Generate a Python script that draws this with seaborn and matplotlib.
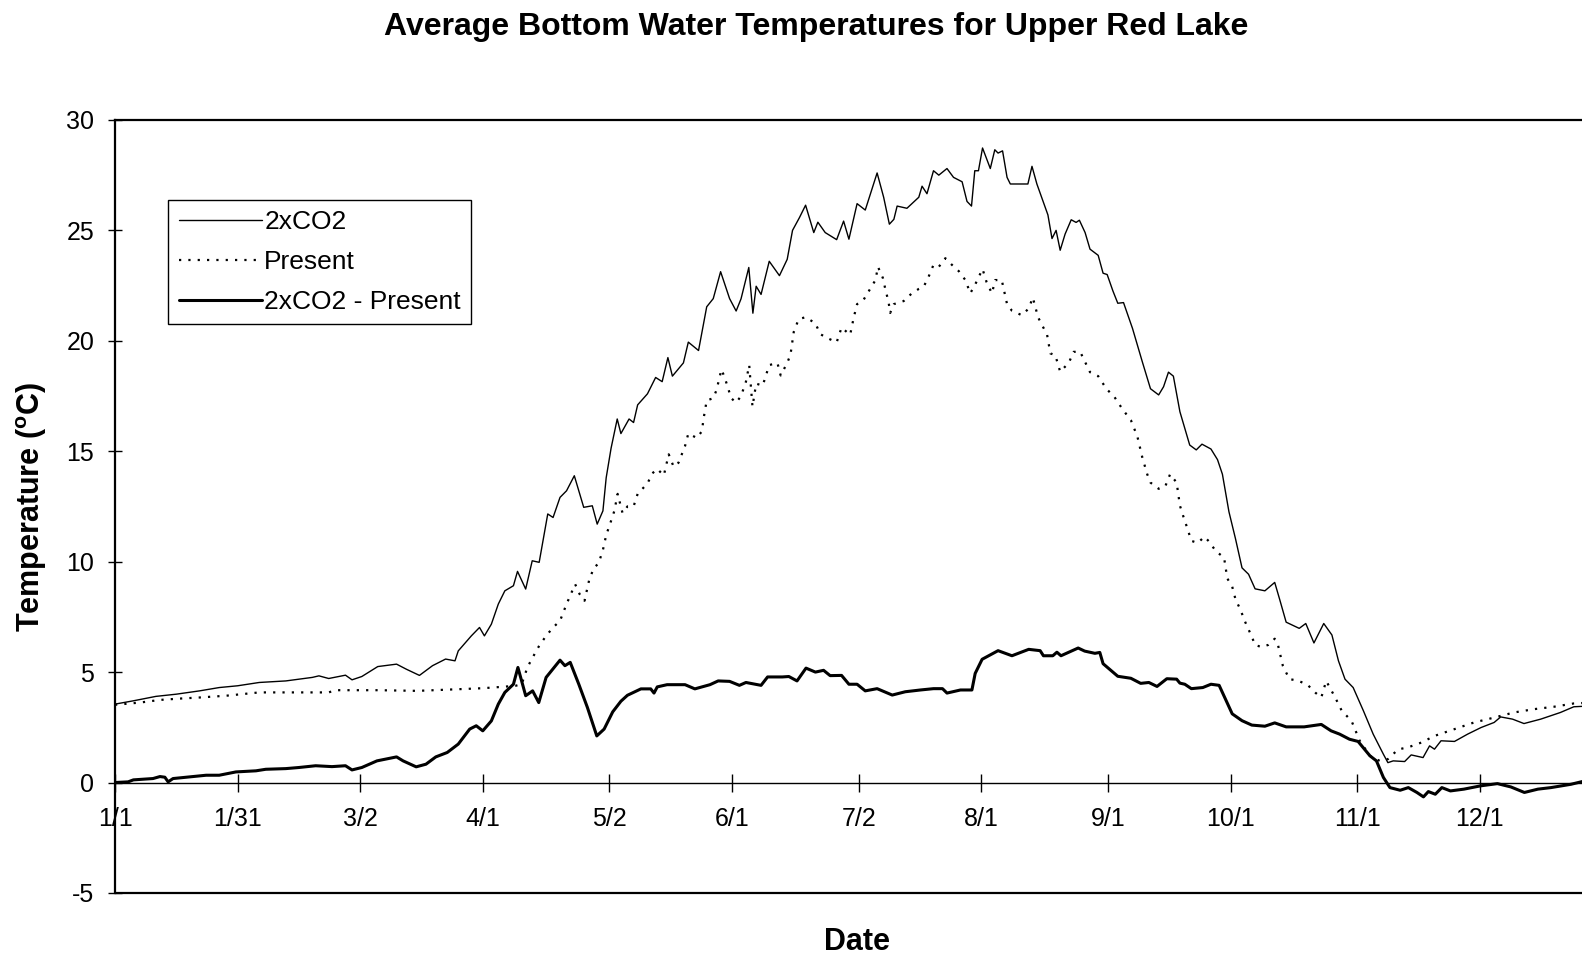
import matplotlib
matplotlib.use("Agg")
import matplotlib.pyplot as plt
import seaborn as sns

# Day-of-year sample points and temperatures (deg C) for each series
days_2x = [1, 5.5, 11, 16, 21.7, 26.5, 31, 36.3, 42.8, 49.3, 50.9, 53.3, 57.4, 59, 61.4,
           65.3, 69.9, 72.3, 75.5, 78.7, 81.9, 84.2, 85, 88.2, 90.2, 91.4, 93.1, 94.8, 96.4,
           98.5, 99.5, 101.5, 103.1, 104.8, 106.9, 108.2, 109.9, 111.5, 113.4, 115.7, 117.8,
           119, 120.4, 121.2, 122.4, 123.9, 124.8, 126.8, 127.9, 128.9, 131.3, 133.3, 134.9,
           136.3, 137.4, 140.1, 141.3, 143.8, 145.8, 147.4, 149.2, 151.4, 153, 154.2, 156.1,
           157.1, 157.9, 159.1, 161.1, 163.6, 165.5, 166.8, 168.5, 170, 172, 173, 174.8, 177.6,
           179.3, 180.6, 182.6, 184.6, 187.5, 189.1, 190.5, 191.6, 192.4, 194.8, 197.7, 198.5,
           199.7, 201.3, 202.6, 204.6, 206.2, 208.3, 209.5, 210.6, 211.4, 212.3, 213.3, 215.2,
           216.3, 217.1, 218.2, 219.3, 220.1, 224.4, 225.4, 226.6, 229.3, 230.3, 231.3, 232.3,
           233.5, 235, 236.2, 237, 238.4, 239.6, 241.6, 242.8, 243.8, 245.2, 246.4, 247.8, 250,
           252.4, 254.4, 256.4, 257.6, 258.8, 260, 261.6, 264, 265.6, 267, 269.2, 270.8, 272,
           273.6, 275.2, 276.8, 278.4, 280, 282.4, 284.8, 286, 287.6, 290.8, 292.4, 294.4,
           296.8, 298.8, 300.4, 302, 304, 306.5, 308.9, 311.4, 312.5, 313.8, 316.6, 318.2,
           321.1, 322.7, 323.9, 325.5, 328.8, 332, 335.3, 338.5, 340.1, 343, 345.8, 349.9,
           354.7, 358, 360.2]
temp_2x = [3.55, 3.70, 3.90, 4.00, 4.15, 4.30, 4.38, 4.53, 4.60, 4.76, 4.83, 4.71, 4.86, 4.65, 4.80,
           5.25, 5.36, 5.13, 4.85, 5.29, 5.59, 5.51, 5.96, 6.64, 7.02, 6.64, 7.17, 8.08, 8.68,
           8.91, 9.56, 8.76, 10.04, 9.97, 12.16, 12.0, 12.91, 13.21, 13.89, 12.46, 12.53,
           11.7, 12.3, 13.8, 15.14, 16.46, 15.8, 16.46, 16.3, 17.1, 17.6, 18.34, 18.15,
           19.24, 18.4, 19.0, 19.94, 19.56, 21.54, 21.91, 23.13, 21.91, 21.35, 21.9, 23.32,
           21.25, 22.47, 22.1, 23.6, 22.95, 23.69, 25.0, 25.58, 26.14, 24.9, 25.37, 24.9, 24.58,
           25.42, 24.6, 26.21, 25.92, 27.6, 26.5, 25.28, 25.5, 26.1, 26.0, 26.5, 27.0,
           26.66, 27.7, 27.5, 27.8, 27.4, 27.2, 26.31, 26.1, 27.7, 27.7, 28.73, 27.8,
           28.65, 28.5, 28.6, 27.4, 27.1, 27.1, 27.9, 27.1, 25.7, 24.63, 25.0, 24.1,
           24.83, 25.48, 25.36, 25.46, 24.9, 24.15, 23.87, 23.06, 23.0, 22.26, 21.7, 21.73, 20.56,
           19.05, 17.83, 17.55, 17.92, 18.58, 18.4, 16.79, 15.28, 15.06, 15.32, 15.1, 14.62, 13.96,
           12.26, 11.04, 9.72, 9.43, 8.77, 8.68, 9.06, 8.3, 7.26, 6.98, 7.2, 6.32,
           7.2, 6.68, 5.51, 4.68, 4.3, 3.25, 2.19, 1.28, 0.9, 0.98, 0.95, 1.25,
           1.13, 1.66, 1.51, 1.89, 1.86, 2.19, 2.49, 2.72, 2.97, 2.87, 2.67, 2.87,
           3.17, 3.43, 3.45]

days_present = [1, 7.1, 12, 16.8, 21.7, 28.2, 36.3, 53.3, 54.9, 65.5, 75, 91, 95.6, 99, 100.5,
                101.1, 101.9, 103.2, 104.8, 106.5, 108.2, 109.9, 111.5, 113.6, 114.7, 115.9, 117,
                118.2, 119.3, 120.4, 121.2, 122.4, 123.2, 124, 125.2, 126.4, 127.9, 128.9, 131.3,
                132.5, 133.7, 135.3, 136.5, 137.7, 138.9, 140.5, 141.3, 143.4, 144.6, 145.1, 145.8,
                147.4, 148.2, 149.4, 150.2, 151, 151.8, 153, 154.2, 155.4, 156.2, 157, 157.9, 159.5,
                161.1, 163.1, 163.9, 165.5, 166.3, 167.1, 168.3, 170, 172.4, 173.6, 175.6, 177.6,
                178.8, 180.9, 181.8, 182.6, 184.2, 185.8, 187.1, 187.7, 188.9, 189.5, 190.3, 190.7,
                191.6, 194, 196, 197.7, 198.9, 200.1, 201.3, 202.6, 204.2, 205.8, 207.5, 209.1,
                210.3, 211.5, 213.3, 214.3, 215.6, 216.4, 218, 219.3, 220.5, 222.9, 224.6, 225.6,
                226.9, 228, 229.1, 229.9, 231.1, 232.3, 234.4, 235.6, 237.2, 238.5, 239.6, 241.6,
                243.6, 245.6, 247.6, 249.6, 251.2, 252.4, 253.6, 254.4, 256.4, 258, 259.2, 260.8,
                261.6, 262.4, 263.6, 264.4, 266, 267.6, 268.8, 270.4, 272.4, 273.2, 274.4, 275.2,
                276.4, 277.6, 279.2, 280, 281.6, 283.2, 284.8, 285.6, 286.8, 288.4, 290.4, 292.8,
                294.8, 296.2, 297.4, 299.6, 301.2, 303.6, 305.6, 308.1, 310.5, 312.5, 315, 317.4,
                320.7, 323.9, 328.8, 333.6, 338.5, 343.3, 348.2, 353.1, 358, 360.2]
temp_present = [3.52, 3.62, 3.74, 3.80, 3.85, 3.93, 4.08, 4.08, 4.18, 4.18, 4.15, 4.27, 4.33, 4.38, 4.45,
                4.76, 5.21, 5.66, 6.19, 6.64, 7.02, 7.32, 8.08, 8.98, 8.53, 8.23, 9.14,
                9.74, 9.9, 10.53, 11.2, 11.85, 12.3, 13.07, 12.2, 12.5, 12.5, 13.07, 13.54,
                14.0, 14.2, 13.9, 14.86, 14.3, 14.48, 15.24, 15.8, 15.6, 15.9, 16.55, 17.3,
                17.4, 17.77, 18.7, 18.34, 17.87, 17.4, 17.2, 17.5, 18.15, 18.9, 17.02, 18.06, 17.97,
                18.9, 19.0, 18.43, 19.0, 19.37, 20.4, 20.98, 21.07, 20.79, 20.3, 20.1, 19.93,
                20.6, 20.27, 21.07, 21.66, 21.86, 22.35, 22.75, 23.35, 22.85, 22.35, 21.76, 21.26,
                21.66, 21.8, 22.15, 22.35, 22.45, 22.9, 23.44, 23.35, 23.74, 23.44, 23.15, 22.75,
                22.15, 22.55, 23.25, 22.65, 22.15, 22.75, 22.75, 21.66, 21.36, 21.16, 21.46, 21.96,
                21.06, 20.67, 20.27, 19.43, 19.35, 18.6, 19.0, 19.5, 19.5, 19.0, 18.58, 18.4,
                17.83, 17.45, 16.89, 16.41, 15.66, 14.72, 13.96, 13.58, 13.3, 13.4, 13.96, 13.58,
                12.54, 12.07, 11.41, 10.94, 10.85, 11.13, 10.9, 10.47, 10.19, 9.24, 8.87, 8.3,
                7.83, 7.26, 6.6, 6.23, 6.13, 6.23, 6.51, 6.23, 5.28, 4.68, 4.62, 4.43,
                4.06, 3.85, 4.6, 3.85, 3.25, 2.79, 1.89, 1.21, 0.98, 1.06, 1.5, 1.59,
                1.81, 2.11, 2.42, 2.72, 2.94, 3.17, 3.32, 3.43, 3.58, 3.6]

days_diff = [1, 4.2, 5.5, 10.3, 12, 13.2, 14, 15.2, 20.1, 23.3, 26.5, 30.6, 35.5, 37.9, 42.8, 46,
             50.1, 54.1, 57.4, 59, 61.4, 65.1, 69.9, 71.5, 74.7, 77.1, 79.5, 82.3, 85, 87.8,
             89.4, 91, 93.1, 94.8, 96.4, 98.5, 99.6, 101.5, 103.2, 104.7, 106.5, 107.8, 109.9,
             111.1, 112.4, 114.5, 116.6, 118.9, 120.7, 122.8, 124.8, 126.4, 129.7, 132.1, 132.9,
             133.7, 136.1, 140.5, 142.9, 146.6, 148.6, 151.4, 153.8, 155.4, 159.1, 160.7, 164.3,
             165.9, 167.9, 170.1, 172.4, 174.4, 176, 178.8, 180.6, 182.6, 184.6, 187.5, 191.2,
             194.4, 198.1, 201.3, 203.5, 204.6, 207.9, 210.7, 211.5, 213.2, 214.8, 217.1, 220.5,
             224.6, 227.4, 228.2, 230.5, 231.5, 232.5, 236.7, 238.3, 240.8, 242, 242.8, 244,
             246.4, 249.6, 252, 254, 256, 258.4, 260.8, 261.6, 262.8, 264.4, 267.2, 269.2, 271.2,
             272.8, 274.4, 276.8, 279.2, 282.4, 284.8, 287.6, 292, 296.2, 298.6, 300.7, 303.1,
             305.2, 308.1, 309.7, 311.4, 313, 315.5, 317.5, 319.6, 321.2, 322.4, 324.1, 325.7,
             327.8, 331.1, 335.2, 339.3, 342.6, 345.9, 349.2, 352.4, 357.3, 360.2]
temp_diff = [0.0, 0.03, 0.12, 0.18, 0.27, 0.24, 0.03, 0.18, 0.27, 0.33, 0.33, 0.48, 0.53, 0.6, 0.63, 0.68,
             0.76, 0.72, 0.76, 0.57, 0.68, 0.98, 1.16, 0.98, 0.71, 0.83, 1.16, 1.36, 1.74, 2.42,
             2.57, 2.34, 2.79, 3.55, 4.08, 4.45, 5.21, 3.93, 4.15, 3.62, 4.76, 5.06, 5.54,
             5.29, 5.44, 4.45, 3.4, 2.11, 2.42, 3.2, 3.68, 3.95, 4.24, 4.24, 4.05,
             4.33, 4.43, 4.43, 4.24, 4.43, 4.6, 4.58, 4.4, 4.53, 4.4, 4.78, 4.78,
             4.8, 4.6, 5.18, 5.0, 5.08, 4.84, 4.85, 4.45, 4.45, 4.15, 4.25, 3.96,
             4.11, 4.19, 4.25, 4.25, 4.05, 4.19, 4.19, 4.94, 5.58, 5.74, 5.97, 5.74,
             6.03, 5.97, 5.74, 5.74, 5.9, 5.74, 6.09, 5.95, 5.85, 5.89, 5.38, 5.19,
             4.81, 4.72, 4.49, 4.53, 4.35, 4.7, 4.68, 4.5, 4.45, 4.25, 4.3, 4.45, 4.4,
             3.75, 3.11, 2.8, 2.6, 2.55, 2.7, 2.52, 2.52, 2.63, 2.34, 2.19, 1.96,
             1.86, 1.21, 0.98, 0.23, -0.23, -0.35, -0.23, -0.45, -0.65, -0.41, -0.53, -0.23,
             -0.38, -0.3, -0.15, -0.05, -0.2, -0.45, -0.3, -0.23, -0.08, 0.05]

tick_days = [1, 31, 61, 91, 122, 152, 183, 213, 244, 274, 305, 335]
tick_labels = ["1/1", "1/31", "3/2", "4/1", "5/2", "6/1", "7/2", "8/1", "9/1", "10/1", "11/1", "12/1"]
y_ticks = [-5, 0, 5, 10, 15, 20, 25, 30]

sns.set_style("white")
plt.rcParams["font.family"] = ["Liberation Sans", "DejaVu Sans"]
plt.rcParams["axes.unicode_minus"] = False
plt.rcParams["mathtext.fontset"] = "custom"
plt.rcParams["mathtext.rm"] = "Liberation Sans"
plt.rcParams["mathtext.bf"] = "Liberation Sans:bold"
for key in ("text.color", "axes.labelcolor", "xtick.color", "ytick.color", "axes.edgecolor"):
    plt.rcParams[key] = "black"

fig = plt.figure(figsize=(15.82, 9.58), dpi=100)
ax = fig.add_axes([0.0727, 0.0679, 0.9273, 0.8069])

sns.lineplot(x=days_2x, y=temp_2x, ax=ax, color="black", linewidth=1.0,
             label="2xCO2", sort=False, estimator=None)
sns.lineplot(x=days_present, y=temp_present, ax=ax, color="black", linewidth=1.6,
             linestyle=(0, (1.0, 3.2)), label="Present", sort=False, estimator=None)
sns.lineplot(x=days_diff, y=temp_diff, ax=ax, color="black", linewidth=2.2,
             label="2xCO2 - Present", sort=False, estimator=None)

ax.set_xlim(1, 360)
ax.set_ylim(-5, 30)

# x axis drawn along the zero line, with a separate frame line at -5
ax.spines["bottom"].set_position(("data", 0))
ax.spines["bottom"].set_linewidth(1.0)
ax.spines["right"].set_visible(False)
ax.spines["top"].set_linewidth(1.6)
ax.spines["left"].set_linewidth(1.6)
for s in ax.spines.values():
    s.set_color("black")
ax.axhline(-5, color="black", linewidth=1.6, clip_on=False, zorder=3)

ax.set_xticks(tick_days)
ax.set_xticklabels(tick_labels)
ax.set_yticks(y_ticks)
ax.set_yticklabels([str(v) for v in y_ticks])
ax.tick_params(axis="x", direction="inout", length=13, width=1.0, color="black",
               labelcolor="black", labelsize=18, pad=11, bottom=True)
ax.tick_params(axis="y", direction="inout", length=10, width=1.0, color="black",
               labelcolor="black", labelsize=18, pad=10, left=True)

ax.set_xlabel("")
ax.set_ylabel(r"Temperature ($^{\mathbf{o}}$C)", fontsize=22, fontweight="bold", color="black")
ax.yaxis.set_label_coords(-0.045, 0.5)

fig.text(0.516, 0.972, "Average Bottom Water Temperatures for Upper Red Lake",
         ha="center", va="center", fontsize=23, fontweight="bold", color="black")
fig.text(0.542, 0.017, "Date", ha="center", va="center", fontsize=22, fontweight="bold",
         color="black")

leg = ax.legend(loc="upper left", bbox_to_anchor=(0.0361, 0.897), borderaxespad=0,
                frameon=True, fancybox=False, edgecolor="black", framealpha=1,
                fontsize=19, handlelength=3.15, handletextpad=0.1, labelspacing=0.6,
                borderpad=0.4)
leg.get_frame().set_linewidth(1.0)
for t in leg.get_texts():
    t.set_color("black")

fig.savefig("out.png", dpi=100, facecolor="white")
